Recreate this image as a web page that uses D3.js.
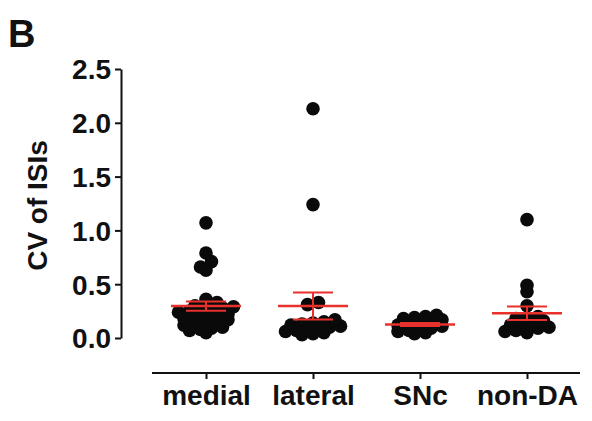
<!DOCTYPE html>
<html><head><meta charset="utf-8">
<script src="https://cdn.jsdelivr.net/npm/d3@7"></script>
<style>body{margin:0;background:#fff}svg{display:block}text{font-family:"Liberation Sans",Arial,sans-serif;font-weight:bold;fill:#111}</style>
</head><body>
<script>
const categories = ["medial", "lateral", "SNc", "non-DA"];
const medial = [1.07, 0.79, 0.71, 0.66, 0.63, 0.36, 0.33, 0.32, 0.30, 0.29, 0.28, 0.27, 0.26, 0.25, 0.24, 0.22, 0.21, 0.20, 0.19, 0.18, 0.17, 0.16, 0.15, 0.14, 0.12, 0.10, 0.09, 0.08, 0.07, 0.05];
const lateral = [2.13, 1.24, 0.33, 0.31, 0.17, 0.15, 0.14, 0.13, 0.12, 0.11, 0.10, 0.09, 0.08, 0.07, 0.06, 0.05, 0.04, 0.03];
const snc = [0.21, 0.20, 0.19, 0.18, 0.17, 0.16, 0.14, 0.13, 0.12, 0.11, 0.09, 0.08, 0.07, 0.06, 0.05, 0.04];
const nonDA = [1.10, 0.49, 0.43, 0.30, 0.20, 0.19, 0.18, 0.16, 0.15, 0.14, 0.12, 0.10, 0.09, 0.08, 0.07, 0.06, 0.05];
const yTicks = [0.0, 0.5, 1.0, 1.5, 2.0, 2.5];
const yTitle = "CV of  ISIs";
const panelLabel = "B";

const groups = [medial, lateral, snc, nonDA];
const W = 592, H = 421;
const svg = d3.select("body").append("svg").attr("width", W).attr("height", H);

const y = d3.scaleLinear().domain([0, 2.5]).range([338, 69]);
const x = d3.scalePoint().domain(categories).range([206, 527]);
const R = 6.8;
const binSize = 0.06;   // value-width of a row in the scatter
const spacing = 11;     // horizontal spacing of points in a row

// y axis
const yAxis = d3.axisLeft(y).tickValues(yTicks).tickFormat(d3.format(".1f")).tickSize(6).tickPadding(4);
const gy = svg.append("g").attr("transform", "translate(121,0)");
gy.call(d3.axisLeft(y).tickValues(d3.range(0, 2.51, 0.1)).tickFormat("").tickSize(3).tickSizeOuter(0));
gy.call(yAxis.tickSizeOuter(0));
gy.selectAll("path,line").attr("stroke", "#111").attr("stroke-width", 2);
gy.selectAll("text").style("font-size", "28px").attr("dy", "0.35em");

// x axis
const gx = svg.append("g").attr("transform", "translate(0,373)");
gx.append("line").attr("x1", 152).attr("x2", 580).attr("stroke", "#111").attr("stroke-width", 2.5);
gx.call(d3.axisBottom(x).tickSize(6).tickSizeOuter(0).tickPadding(5));
gx.select("path.domain").remove();
gx.selectAll("line").attr("stroke", "#111").attr("stroke-width", 2);
gx.selectAll("text").style("font-size", "28px").attr("dy", "0.74em");

// titles
svg.append("text").attr("transform", `translate(47,${(338 + 69) / 2 + 2}) rotate(-90)`)
  .attr("text-anchor", "middle").style("font-size", "28px").text(yTitle);
svg.append("text").attr("x", 8).attr("y", 47).style("font-size", "38px").text(panelLabel);

// row-based scatter (GraphPad style)
function layout(vals, cx) {
  const rows = d3.group(vals.slice().sort(d3.ascending), v => Math.floor(v / binSize + 1e-9));
  const pts = [];
  for (const [, rv] of rows) {
    const k = rv.length;
    rv.forEach((v, j) => pts.push({v, px: cx + (j - (k - 1) / 2) * spacing, py: y(v)}));
  }
  return pts;
}

groups.forEach((vals, i) => {
  const cx = x(categories[i]);
  const pts = layout(vals, cx);
  svg.append("g").selectAll("circle").data(pts).join("circle")
    .attr("cx", d => d.px).attr("cy", d => d.py).attr("r", R).attr("fill", "#0a0a0a");
  const m = d3.mean(vals);
  const sem = d3.deviation(vals) / Math.sqrt(vals.length);
  const g = svg.append("g").attr("stroke", "#e8302c").attr("stroke-width", 2);
  g.append("line").attr("x1", cx - 35).attr("x2", cx + 35).attr("y1", y(m)).attr("y2", y(m)).attr("stroke-width", 2.5);
  g.append("line").attr("x1", cx).attr("x2", cx).attr("y1", y(m - sem)).attr("y2", y(m + sem));
  [m - sem, m + sem].forEach(v => g.append("line").attr("x1", cx - 20).attr("x2", cx + 20).attr("y1", y(v)).attr("y2", y(v)));
});
</script>
</body></html>
